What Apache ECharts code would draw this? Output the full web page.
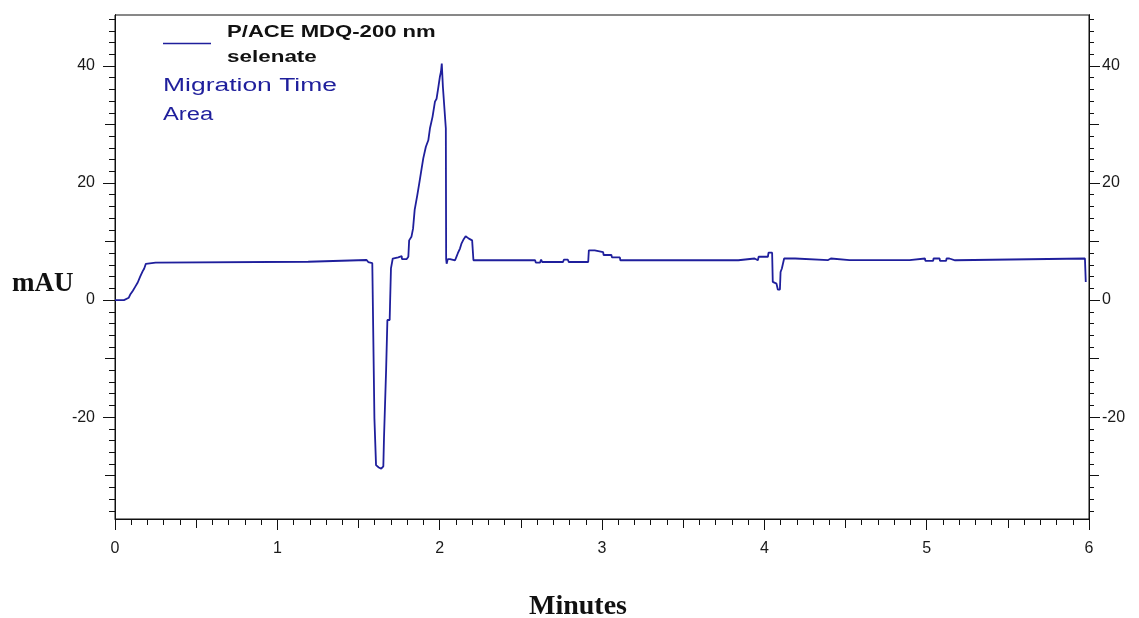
<!DOCTYPE html>
<html>
<head>
<meta charset="utf-8">
<script src="https://cdn.jsdelivr.net/npm/echarts@6/dist/echarts.min.js"></script>
<style>
html,body{margin:0;padding:0;background:#fff;}
#chart{width:1139px;height:618px;}
</style>
</head>
<body>
<div id="chart"></div>
<script>
// ---- data ----
var times = [
  0.000,0.055,0.065,0.085,0.095,0.110,0.125,0.140,0.155,0.170,0.180,0.190,0.200,0.250,0.258,
  1.190,1.195,1.550,1.560,1.585,1.596,1.598,1.606,1.608,1.625,1.640,1.653,1.657,1.668,1.670,
  1.676,1.678,1.692,1.694,1.698,1.700,1.708,1.711,1.720,1.745,1.752,1.766,1.768,1.797,1.807,
  1.812,1.826,1.836,1.846,1.862,1.874,1.889,1.899,1.915,1.930,1.940,1.956,1.971,1.981,1.991,
  2.001,2.008,2.013,2.017,2.020,2.038,2.040,2.043,2.050,2.056,2.064,2.072,2.095,2.105,2.112,
  2.125,2.135,2.148,2.160,2.172,2.180,2.192,2.200,2.206,2.208,2.235,2.240,2.245,2.588,2.592,
  2.618,2.625,2.632,2.760,2.765,2.790,2.795,2.915,2.919,2.955,2.958,3.007,3.010,3.058,3.061,
  3.110,3.113,3.840,3.842,3.940,3.945,3.960,3.965,4.022,4.026,4.048,4.052,4.075,4.083,4.096,
  4.100,4.108,4.118,4.122,4.190,4.192,4.393,4.395,4.410,4.412,4.525,4.527,4.535,4.537,4.720,
  4.722,4.730,4.750,4.752,4.760,4.860,4.862,4.870,4.895,4.898,4.990,4.992,5.040,5.042,5.080,
  5.082,5.120,5.122,5.140,5.142,5.175,5.178,5.975,5.980
];
var mAU = [
  0.0,0.0,0.2,0.4,1.0,1.6,2.3,3.0,4.0,4.9,5.4,6.2,6.4,6.4,6.55,
  6.55,6.85,6.85,6.5,6.3,6.2,-20.2,-20.2,-28.2,-28.6,-28.8,-28.4,-23.6,-23.6,-12.0,
  -12.0,-3.4,-3.4,-1.1,-1.1,5.4,5.4,7.1,7.3,7.3,7.6,7.5,7.0,7.0,7.4,
  10.2,10.8,12.2,15.4,17.9,19.9,22.5,24.2,26.2,27.3,29.3,31.3,33.9,34.4,36.2,
  38.1,39.0,40.4,40.4,36.4,29.3,7.0,6.2,7.0,7.3,7.0,6.7,6.8,7.5,8.0,
  8.8,9.7,10.4,10.9,10.9,10.5,10.6,10.2,10.2,6.8,6.8,6.5,6.8,6.8,6.4,
  6.4,6.9,6.5,6.5,6.9,6.9,6.5,6.5,8.5,8.5,8.2,8.2,7.7,7.7,7.3,
  7.3,6.8,6.8,7.1,7.1,6.8,6.8,7.4,7.4,8.1,8.1,3.1,2.8,1.8,1.8,
  4.8,5.4,5.6,7.1,7.1,6.83,6.83,7.1,7.1,6.83,6.83,7.1,7.1,6.83,6.83,
  7.1,6.83,6.83,7.1,6.83,6.83,7.1,6.83,6.83,7.1,7.1,6.7,6.7,7.1,7.1,
  6.7,6.7,7.1,7.1,6.8,6.8,7.1,7.1,3.1
];
var yLabelValues = [-20, 0, 20, 40];
var yMidTickValues = [-30, -10, 10, 30];
var xLabels = ['0','1','2','3','4','5','6'];
var legendTitle = ['P/ACE MDQ-200 nm', 'selenate'];
var legendNotes = ['Migration Time', 'Area'];
var xName = 'Minutes';
var yName = 'mAU';

// ---- build ----
var seriesData = times.map(function (t, i) { return [t, mAU[i]]; });
var yMinorTickValues = [];
for (var v = -36; v <= 48; v += 2) yMinorTickValues.push(v);

var YMIN = -37.4, YMAX = 48.7;
var traceColor = '#1f1f9c';
var axisColor = '#111';
var labelFont = {fontFamily: 'Liberation Sans', fontSize: 16, color: '#1a1a1a'};

function yAx(pos, tickVals, tickLen, showLabels, margin) {
  return {
    type: 'value', position: pos, min: YMIN, max: YMAX,
    axisLine: {show: true, onZero: false, lineStyle: {color: axisColor, width: 1}},
    axisTick: {show: true, inside: false, length: tickLen, customValues: tickVals,
               lineStyle: {color: axisColor, width: 1}},
    axisLabel: showLabels ? Object.assign({show: true, margin: margin, customValues: yLabelValues,
               formatter: function (v) { return String(v); }}, labelFont) : {show: false},
    splitLine: {show: false}
  };
}

var chart = echarts.init(document.getElementById('chart'), null, {renderer: 'canvas'});
chart.setOption({
  animation: false,
  backgroundColor: '#fff',
  grid: {left: 115, right: 50, top: 15, bottom: 99, show: true, borderColor: axisColor, borderWidth: 1, backgroundColor: 'transparent'},
  xAxis: [
    {
      type: 'value', min: 0, max: 6, interval: 1, position: 'bottom',
      axisLine: {show: true, onZero: false, lineStyle: {color: axisColor}},
      axisTick: {show: true, length: 11, lineStyle: {color: axisColor}},
      axisLabel: Object.assign({show: true, margin: 22, formatter: function (v) { return xLabels[Math.round(v)]; }}, labelFont),
      splitLine: {show: false}
    },
    {
      type: 'value', min: 0, max: 6, interval: 0.5, position: 'bottom',
      axisLine: {show: false, onZero: false},
      axisTick: {show: true, length: 9, lineStyle: {color: axisColor}},
      minorTick: {show: true, splitNumber: 5, length: 6, lineStyle: {color: axisColor}},
      axisLabel: {show: false},
      splitLine: {show: false}
    }
  ],
  yAxis: [
    yAx('left', yLabelValues, 12, true, 20),
    yAx('left', yMidTickValues, 10, false),
    yAx('left', yMinorTickValues, 6, false),
    yAx('right', yLabelValues, 11, true, 13),
    yAx('right', yMidTickValues, 10, false),
    yAx('right', yMinorTickValues, 5, false)
  ],
  series: [{
    type: 'line', xAxisIndex: 0, yAxisIndex: 0,
    data: seriesData, showSymbol: false, symbol: 'none',
    lineStyle: {color: traceColor, width: 1.8}, silent: true
  }],
  graphic: [
    {type: 'line', shape: {x1: 163, y1: 43.5, x2: 211, y2: 43.5}, style: {stroke: traceColor, lineWidth: 1.5}},
    {type: 'text', x: 227, y: 32, scaleX: 1.3, style: {text: legendTitle[0], font: 'bold 17px "Liberation Sans"', fill: '#111', textAlign: 'left', textVerticalAlign: 'middle'}},
    {type: 'text', x: 227, y: 57, scaleX: 1.32, style: {text: legendTitle[1], font: 'bold 17px "Liberation Sans"', fill: '#111', textAlign: 'left', textVerticalAlign: 'middle'}},
    {type: 'text', x: 163, y: 86, scaleX: 1.47, style: {text: legendNotes[0], font: '18px "Liberation Sans"', fill: traceColor, textAlign: 'left', textVerticalAlign: 'middle'}},
    {type: 'text', x: 163, y: 115, scaleX: 1.32, style: {text: legendNotes[1], font: '18px "Liberation Sans"', fill: traceColor, textAlign: 'left', textVerticalAlign: 'middle'}},
    {type: 'text', x: 12, y: 284, style: {text: yName, font: 'bold 27px "Liberation Serif"', fill: '#111', textAlign: 'left', textVerticalAlign: 'middle'}},
    {type: 'text', x: 578, y: 607, style: {text: xName, font: 'bold 28px "Liberation Serif"', fill: '#111', textAlign: 'center', textVerticalAlign: 'middle'}}
  ]
});
</script>
</body>
</html>
